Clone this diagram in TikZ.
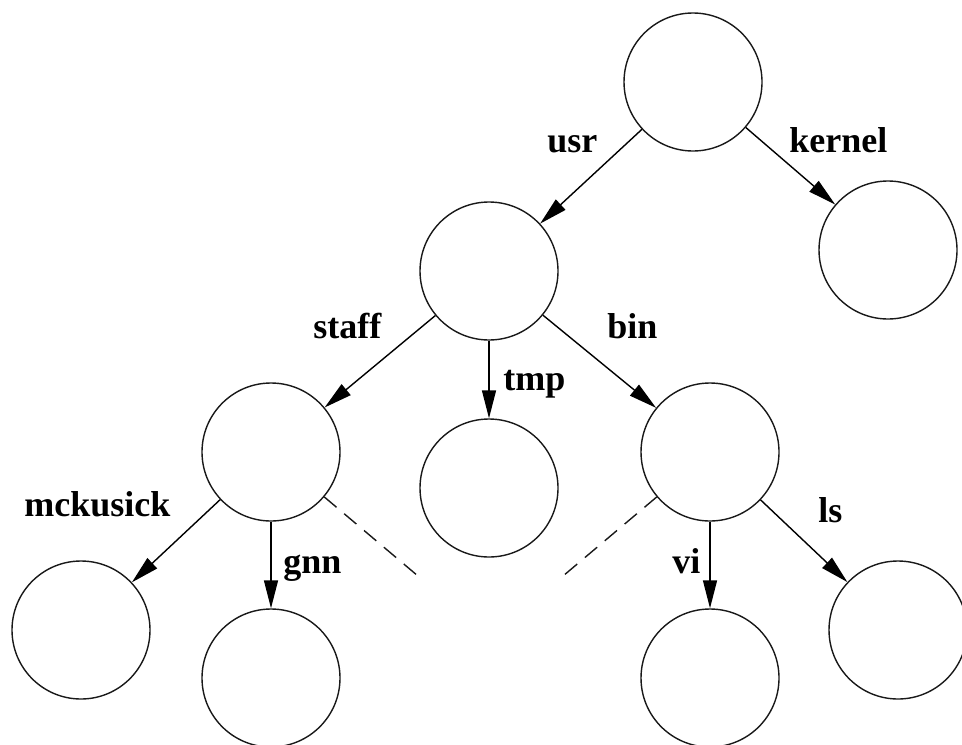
\documentclass[tikz,border=0pt]{standalone}
\usepackage{fontspec}
\setmainfont{Liberation Serif}
\usetikzlibrary{arrows.meta}
\begin{document}
\begin{tikzpicture}[x=0.5pt,y=-0.5pt,
  vert/.style={draw=black!90, circle, line width=0.7pt, minimum size=69pt, inner sep=0pt},
  edge/.style={draw=black, line width=0.7pt, -{Triangle[length=14pt,width=7pt]}},
  more/.style={draw=black!90, line width=0.7pt, dash pattern=on 8pt off 5pt},
  lbl/.style={anchor=base west, inner sep=0pt, font=\fontsize{18}{20}\selectfont\bfseries}]
\useasboundingbox (0,0) rectangle (962,744);
\clip (0,0) rectangle (962,744);
\node[vert] (root) at (693,82) {};
\node[vert] (kern) at (888,250) {};
\node[vert] (usr) at (489,271) {};
\node[vert] (staff) at (271,452) {};
\node[vert] (tmp) at (489,488) {};
\node[vert] (bin) at (710,452) {};
\node[vert] (mck) at (81,630) {};
\node[vert] (gnn) at (271,678) {};
\node[vert] (vi) at (710,678) {};
\node[vert] (ls) at (898,630) {};
\coordinate (dL) at (418,576);
\coordinate (dR) at (563,576);
\draw[edge] (root) -- (usr);
\draw[edge] (root) -- (kern);
\draw[edge] (usr) -- (staff);
\draw[edge] (usr) -- (tmp);
\draw[edge] (usr) -- (bin);
\draw[edge] (staff) -- (mck);
\draw[edge] (staff) -- (gnn);
\draw[edge] (bin) -- (vi);
\draw[edge] (bin) -- (ls);
\draw[more] (staff) -- (dL);
\draw[more] (bin) -- (dR);
\node[lbl] (tusr) at (547,152) {usr};
\node[lbl] (tkern) at (789,152) {kernel};
\node[lbl] (tstaff) at (313,338) {staff};
\node[lbl] (tbin) at (607,338) {bin};
\node[lbl] (ttmp) at (503,390) {tmp};
\node[lbl] (tmck) at (24,516) {mckusick};
\node[lbl] (tgnn) at (283,573) {gnn};
\node[lbl] (tvi) at (672,573) {vi};
\node[lbl] (tls) at (818,522) {ls};
\end{tikzpicture}
\end{document}
